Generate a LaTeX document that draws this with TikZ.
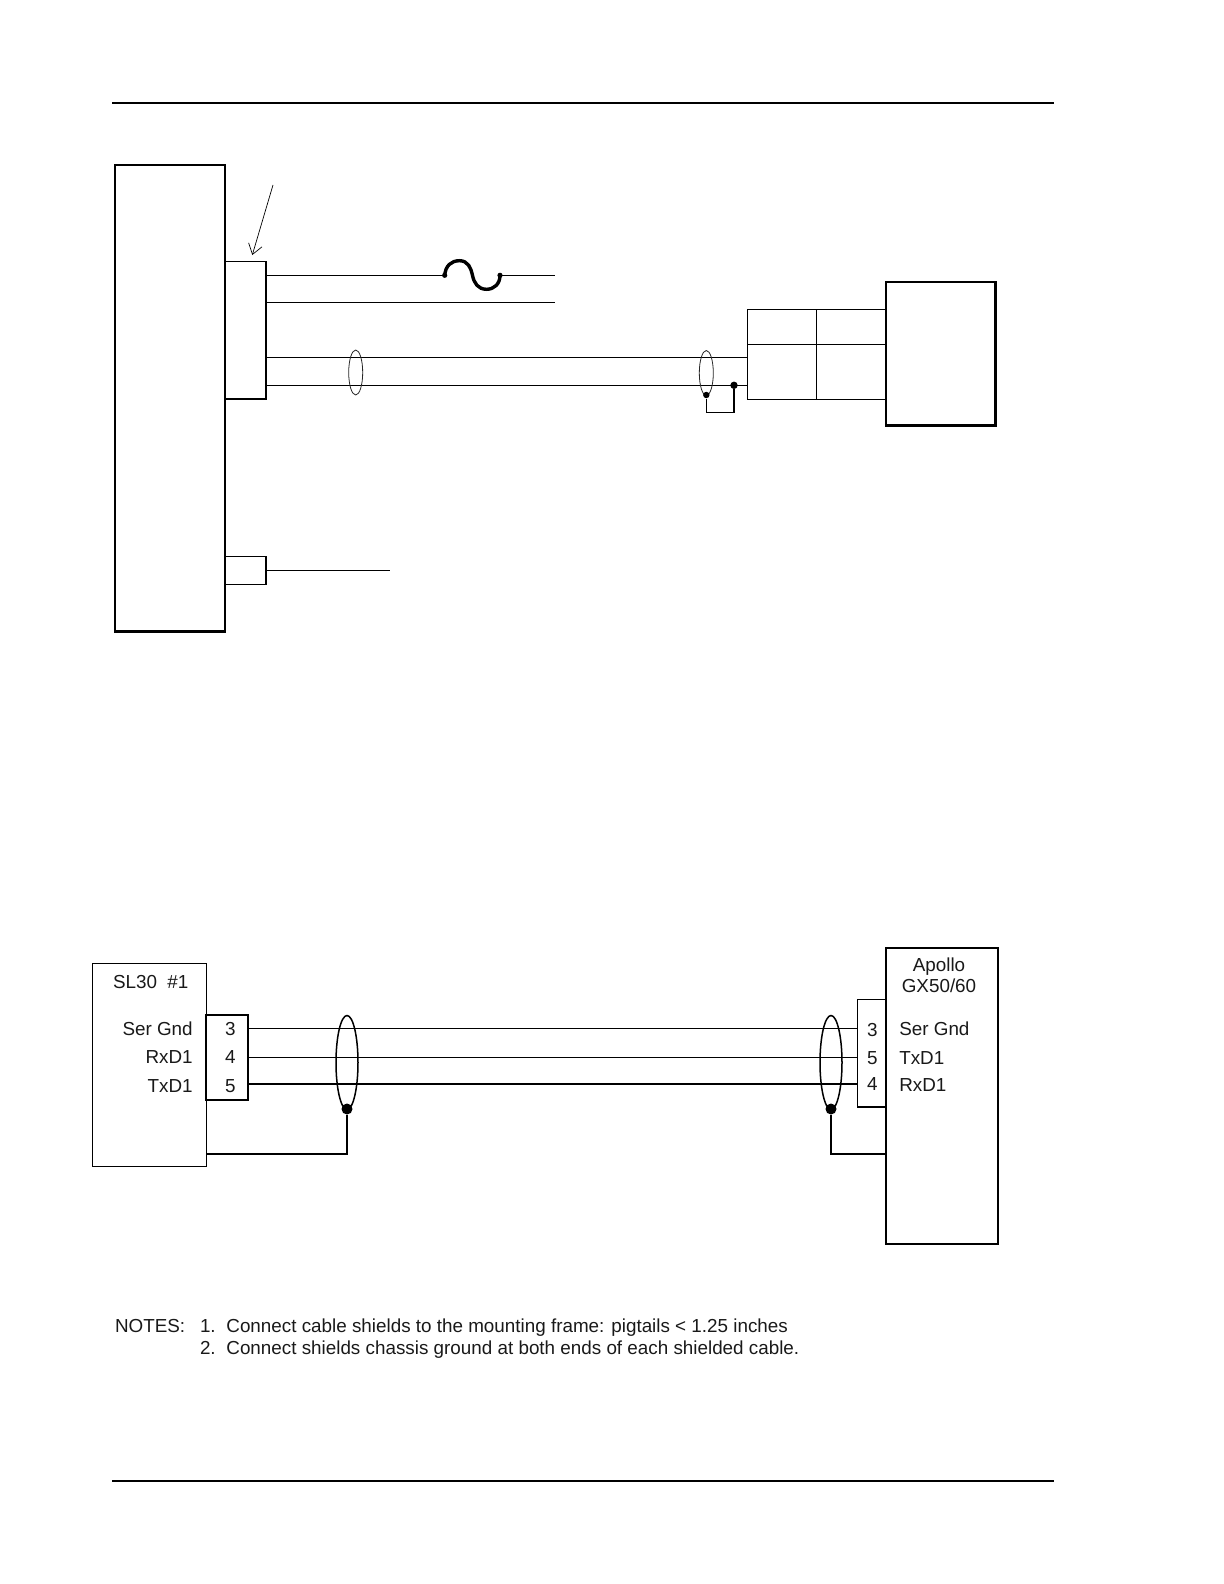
\documentclass[tikz,border=0pt]{standalone}
\usepackage{fontspec}
\setmainfont{Liberation Sans}
\usetikzlibrary{shapes.geometric,arrows.meta}
\newcommand{\pxbox}[6]{% name, x1,y1,x2,y2, style
  \pgfmathsetmacro{\bw}{(#4-#2)*0.5}\pgfmathsetmacro{\bh}{(#5-#3)*0.5}
  \node[rectangle,draw,inner sep=0pt,outer sep=0pt,anchor=north west,minimum width=\bw pt,minimum height=\bh pt,#6] (#1) at (#2,#3) {};}
\tikzset{
  heavy/.style={line width=1.25pt},
  medium/.style={line width=0.7pt},
  strong/.style={line width=0.9pt},
  thin wire/.style={line width=0.6pt},
  shield small/.style={ellipse,draw=black!85,line width=0.4pt,inner sep=0pt,outer sep=0pt,minimum width=7pt,minimum height=22.5pt},
  shield large/.style={ellipse,draw=black,line width=0.75pt,inner sep=0pt,outer sep=0pt,minimum width=11pt,minimum height=47pt},
  dotsmall/.style={circle,fill=black,inner sep=0pt,minimum size=#1},
  lbl/.style={inner sep=0pt,outer sep=0pt,font=\fontsize{9.42pt}{11pt}\selectfont,text=black!90},
}
\begin{document}
\begin{tikzpicture}[x=0.5pt,y=-0.5pt]
\useasboundingbox (0,0) rectangle (1224,1584);
% page rules
\coordinate (hl) at (112,103); \coordinate (hr) at (1054,103);
\coordinate (fl) at (112,1481); \coordinate (fr) at (1054,1481);
\draw[line width=1.1pt] (hl) -- (hr);
\draw[line width=1.1pt] (fl) -- (fr);

% upper diagram
\pxbox{conn1}{225}{261.3}{266}{399}{medium}
\pxbox{conn2}{225}{556.3}{266}{584.3}{medium}
\pxbox{main}{115}{165}{225}{631.7}{heavy}
\coordinate (arrS) at (273,185); \coordinate (arrE) at (252.3,255);
\draw[line width=0.35pt,-{Straight Barb[length=5pt,width=7pt]}] (arrS) -- (arrE);

\coordinate (w1a) at (266,275.3); \coordinate (fa) at (444.7,275.3);
\coordinate (fb) at (500,275.3); \coordinate (w1b) at (555,275.3);
\coordinate (w2a) at (266,302.3); \coordinate (w2b) at (555,302.3);
\draw[medium] (w1a) -- (fa);
\draw[medium] (fb) -- (w1b);
\draw[medium] (w2a) -- (w2b);
\draw[line width=1.7pt,line cap=round] (fa) .. controls (445.5,266) and (451,260.7) .. (459.5,260.7)
   .. controls (468,260.7) and (471,268) .. (472.5,275.3)
   .. controls (474,283) and (478,289.3) .. (486.5,289.3)
   .. controls (494,289.3) and (500,284) .. (fb);
\node[dotsmall=2.6pt] (fdotA) at (fa) {};
\node[dotsmall=2.6pt] (fdotB) at (fb) {};

\pxbox{tabA}{747.3}{309.3}{816.3}{344.3}{medium}
\pxbox{tabB}{816.3}{309.3}{886}{344.3}{medium}
\pxbox{tabC}{747.3}{344.3}{816.3}{399.3}{medium}
\pxbox{tabD}{816.3}{344.3}{886}{399.3}{medium}
\pxbox{unit}{886}{282}{995.3}{425.7}{heavy}

\coordinate (w3a) at (266,357.3); \coordinate (w3b) at (747.3,357.3);
\coordinate (w4a) at (266,385.3); \coordinate (w4b) at (747.3,385.3);
\draw[medium] (w3a) -- (w3b);
\draw[medium] (w4a) -- (w4b);
\node[shield small] (s1) at (355.7,372.5) {};
\node[shield small] (s2) at (706.3,373) {};
\node[dotsmall=3.2pt] (d2) at (706.3,395) {};
\node[dotsmall=3.7pt] (d3) at (734,385.3) {};
\draw[medium] (d2) |- (734,412.3) -- (d3);

\coordinate (w5b) at (390,570.3);
\draw[medium] (conn2.east |- w5b) -- (w5b);

% lower diagram
\pxbox{cl}{206.3}{1015}{247.7}{1099.7}{strong}
\pxbox{sl}{92.7}{963.7}{206.3}{1166.3}{medium}
\pxbox{cr}{857.7}{999.3}{886}{1107}{thin wire}
\pxbox{ap}{886}{948}{997.7}{1244}{line width=0.85pt}

\coordinate (a1) at (247.7,1028.5); \coordinate (b1) at (857.7,1028.5);
\coordinate (a2) at (247.7,1057.3); \coordinate (b2) at (857.7,1057.3);
\coordinate (a3) at (247.7,1083.7); \coordinate (b3) at (857.7,1083.7);
\draw[thin wire] (a1) -- (b1);
\draw[thin wire] (a2) -- (b2);
\draw[line width=0.95pt] (a3) -- (b3);

\node[shield large] (sl1) at (347,1062.5) {};
\node[shield large] (sl2) at (831,1062.5) {};
\node[dotsmall=5.5pt] (dl1) at (347,1109) {};
\node[dotsmall=5.5pt] (dl2) at (831,1109) {};
\coordinate (g1) at (206.3,1153.7); \coordinate (g2) at (886,1153.7);
\draw[strong] (dl1) |- (g1);
\draw[line width=0.95pt] (dl2) |- (g2);

% labels
\node[lbl,anchor=base west] (t1) at (113,988) {SL30\ \ \#1};
\node[lbl,anchor=base east] (t2) at (192.7,1035) {Ser Gnd};
\node[lbl,anchor=base east] (t3) at (192.7,1063.7) {RxD1};
\node[lbl,anchor=base east] (t4) at (192.7,1092) {TxD1};
\node[lbl,anchor=base] (n1) at (230.3,1035) {3};
\node[lbl,anchor=base] (n2) at (230.3,1063.7) {4};
\node[lbl,anchor=base] (n3) at (230.3,1092) {5};
\node[lbl,anchor=base] (t5) at (939,971.7) {Apollo};
\node[lbl,anchor=base] (t6) at (939,992.7) {GX50/60};
\node[lbl,anchor=base] (n4) at (872.3,1036) {3};
\node[lbl,anchor=base] (n5) at (872.3,1064) {5};
\node[lbl,anchor=base] (n6) at (872.3,1090.3) {4};
\node[lbl,anchor=base west] (t7) at (899.3,1035.3) {Ser Gnd};
\node[lbl,anchor=base west] (t8) at (899.3,1064) {TxD1};
\node[lbl,anchor=base west] (t9) at (899.3,1091) {RxD1};

% notes
\node[lbl,anchor=base west] (notes) at (115,1332) {NOTES:};
\node[lbl,anchor=base west] (no1) at (200,1332) {1.};
\node[lbl,anchor=base west] (no1t) at (226.4,1332) {Connect cable shields to the mounting frame: pigtails < 1.25 inches};
\node[lbl,anchor=base west] (no2) at (200,1354) {2.};
\node[lbl,anchor=base west] (no2t) at (226.4,1354) {Connect shields chassis ground at both ends of each shielded cable.};
\end{tikzpicture}
\end{document}
